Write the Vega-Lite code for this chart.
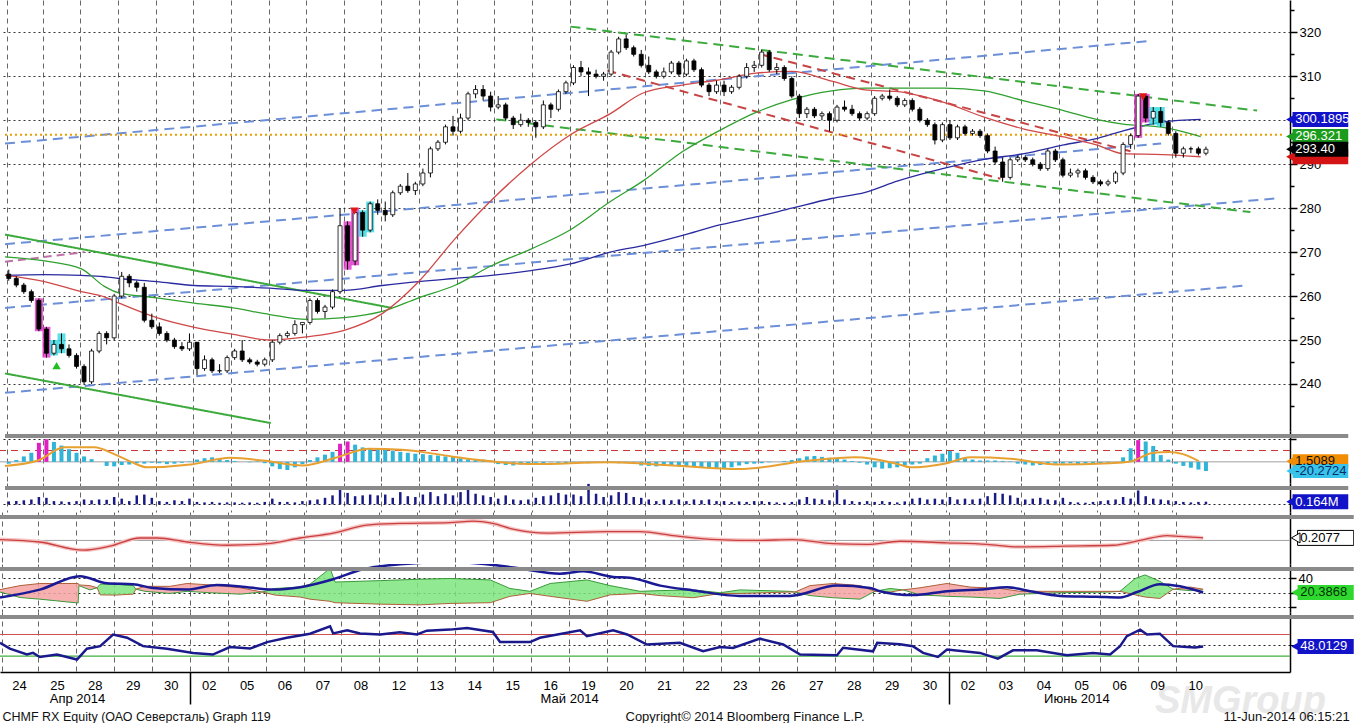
{
"$schema":"https://vega.github.io/schema/vega-lite/v6.json",
"padding":{"left":-8,"top":0,"right":0,"bottom":0},
"background":"white",
"spacing":0,
"bounds":"flush",
"config":{"view":{"stroke":null},"font":"Liberation Sans","axis":{"labelFont":"Liberation Sans","titleFont":"Liberation Sans"},"text":{"font":"Liberation Sans"}},
"resolve":{"scale":{"color":"independent","fill":"independent","stroke":"independent","shape":"independent","strokeDash":"independent"}},
"datasets":{
"candles":[
{"t":0.1,"o":265,"h":266,"l":263.5,"c":264,"v":0.18,"hs":-4},
{"t":0.3,"o":264,"h":264.5,"l":262,"c":262.5,"v":0.2,"hs":4},
{"t":0.5,"o":262.5,"h":263,"l":260.5,"c":261,"v":0.25,"hs":12},
{"t":0.7,"o":261,"h":261.5,"l":258.5,"c":259,"v":0.3,"hs":20},
{"t":0.9,"o":259,"h":259.5,"l":252,"c":252.5,"v":0.45,"hs":42,"hl":"m","hc":"m"},
{"t":1.1,"o":252.5,"h":253,"l":246,"c":247,"v":0.4,"hs":50,"hl":"m","hc":"m"},
{"t":1.3,"o":247,"h":250,"l":246.5,"c":249,"v":0.2,"hs":44,"hl":"c"},
{"t":1.5,"o":249,"h":251.5,"l":247,"c":248,"v":0.18,"hs":36,"hl":"c"},
{"t":1.7,"o":248,"h":249,"l":246,"c":246.5,"v":0.15,"hs":28},
{"t":1.9,"o":246.5,"h":247,"l":243.5,"c":244,"v":0.2,"hs":20},
{"t":2.1,"o":244,"h":244.5,"l":240,"c":240.5,"v":0.3,"hs":12},
{"t":2.3,"o":240.5,"h":248,"l":240,"c":247.5,"v":0.25,"hs":6},
{"t":2.5,"o":247.5,"h":252,"l":247,"c":251.5,"v":0.3,"hs":0},
{"t":2.7,"o":251.5,"h":252,"l":249,"c":250.5,"v":0.28,"hs":-9},
{"t":2.9,"o":250.5,"h":260.5,"l":250,"c":260,"v":0.45,"hs":-10},
{"t":3.1,"o":260,"h":265.5,"l":259.5,"c":264.5,"v":0.35,"hs":-7},
{"t":3.3,"o":264.5,"h":265,"l":262,"c":263,"v":0.2,"hs":-6},
{"t":3.5,"o":263,"h":263.5,"l":261,"c":262,"v":0.55,"hs":-3},
{"t":3.7,"o":262,"h":263,"l":254,"c":254.5,"v":0.6,"hs":-4},
{"t":3.9,"o":254.5,"h":256,"l":252.5,"c":253,"v":0.4,"hs":-2},
{"t":4.1,"o":253,"h":254,"l":251,"c":251.5,"v":0.2,"hs":-3},
{"t":4.3,"o":251.5,"h":252,"l":249.5,"c":250,"v":0.15,"hs":-5},
{"t":4.5,"o":250,"h":250.5,"l":248,"c":248.5,"v":0.25,"hs":-4},
{"t":4.7,"o":248.5,"h":249.5,"l":247.5,"c":248,"v":0.2,"hs":-2},
{"t":4.9,"o":248,"h":251.5,"l":247.5,"c":249.5,"v":0.35,"hs":1},
{"t":5.1,"o":249.5,"h":249.5,"l":242,"c":243.5,"v":0.15,"hs":5},
{"t":5.3,"o":243.5,"h":246.5,"l":243,"c":245.5,"v":0.12,"hs":8},
{"t":5.5,"o":245.5,"h":246,"l":242.5,"c":243,"v":0.15,"hs":10},
{"t":5.7,"o":243,"h":244.5,"l":242.5,"c":243,"v":0.1,"hs":7},
{"t":5.9,"o":243,"h":246.5,"l":242.5,"c":246,"v":0.12,"hs":4},
{"t":6.1,"o":246,"h":248,"l":245.5,"c":247.5,"v":0.12,"hs":2},
{"t":6.3,"o":247.5,"h":250,"l":245,"c":245.5,"v":0.1,"hs":0},
{"t":6.5,"o":245.5,"h":246,"l":244.5,"c":245,"v":0.12,"hs":-1},
{"t":6.7,"o":245,"h":245.5,"l":244,"c":244.5,"v":0.1,"hs":1},
{"t":6.9,"o":244.5,"h":246,"l":244,"c":245.5,"v":0.15,"hs":-3},
{"t":7.1,"o":245.5,"h":250,"l":245,"c":249.5,"v":0.35,"hs":-10},
{"t":7.3,"o":249.5,"h":251.5,"l":249,"c":251,"v":0.15,"hs":-16},
{"t":7.5,"o":251,"h":252,"l":250.5,"c":251.5,"v":0.15,"hs":-18},
{"t":7.7,"o":251.5,"h":254.5,"l":251,"c":253.5,"v":0.12,"hs":-12},
{"t":7.9,"o":253.5,"h":254,"l":251.5,"c":254,"v":0.2,"hs":-5},
{"t":8.1,"o":254,"h":259.5,"l":253.5,"c":259,"v":0.25,"hs":4},
{"t":8.3,"o":259,"h":259.5,"l":256,"c":256.5,"v":0.3,"hs":10},
{"t":8.5,"o":256.5,"h":258,"l":255,"c":257.5,"v":0.4,"hs":16},
{"t":8.7,"o":257.5,"h":261.5,"l":257,"c":261,"v":0.55,"hs":22},
{"t":8.9,"o":261,"h":280,"l":260.5,"c":276,"v":0.95,"hs":40,"hc":"m"},
{"t":9.1,"o":276,"h":277,"l":266,"c":268,"v":0.7,"hs":45,"hl":"m","hc":"m"},
{"t":9.3,"o":268,"h":280,"l":267,"c":279,"v":0.5,"hs":38,"hl":"m"},
{"t":9.5,"o":279,"h":279.5,"l":273.5,"c":275,"v":0.55,"hs":32,"hl":"c"},
{"t":9.7,"o":275,"h":281.5,"l":274.5,"c":281,"v":0.6,"hs":30,"hl":"c"},
{"t":9.9,"o":281,"h":282,"l":278.5,"c":279.5,"v":0.55,"hs":28},
{"t":10.1,"o":279.5,"h":281.5,"l":277,"c":278.5,"v":0.6,"hs":27},
{"t":10.3,"o":278.5,"h":284,"l":278,"c":283.5,"v":0.4,"hs":25},
{"t":10.5,"o":283.5,"h":285.5,"l":283,"c":285,"v":0.75,"hs":22},
{"t":10.7,"o":285,"h":288,"l":283.5,"c":284,"v":0.5,"hs":20},
{"t":10.9,"o":284,"h":286,"l":283,"c":285.5,"v":0.45,"hs":18},
{"t":11.1,"o":285.5,"h":289,"l":285,"c":288,"v":0.6,"hs":17},
{"t":11.3,"o":288,"h":294,"l":287,"c":293.5,"v":0.75,"hs":15},
{"t":11.5,"o":293.5,"h":295.5,"l":293,"c":295,"v":0.5,"hs":14},
{"t":11.7,"o":295,"h":299,"l":294.5,"c":298.5,"v":0.65,"hs":12},
{"t":11.9,"o":298.5,"h":301,"l":296.5,"c":297.5,"v":0.55,"hs":11},
{"t":12.1,"o":297.5,"h":301.5,"l":297,"c":300.5,"v":0.75,"hs":8},
{"t":12.3,"o":300.5,"h":306.5,"l":300,"c":306,"v":0.9,"hs":6},
{"t":12.5,"o":306,"h":308,"l":305,"c":307,"v":0.65,"hs":5},
{"t":12.7,"o":307,"h":308,"l":304.5,"c":305.5,"v":0.55,"hs":5},
{"t":12.9,"o":305.5,"h":306.5,"l":302,"c":303,"v":0.45,"hs":3},
{"t":13.1,"o":303,"h":305.5,"l":302.5,"c":303.5,"v":0.35,"hs":-5},
{"t":13.3,"o":303.5,"h":304,"l":300,"c":300.5,"v":0.55,"hs":-7},
{"t":13.5,"o":300.5,"h":301,"l":298,"c":299,"v":0.3,"hs":-8},
{"t":13.7,"o":299,"h":301.5,"l":298.5,"c":300,"v":0.25,"hs":-6},
{"t":13.9,"o":300,"h":300.5,"l":298.5,"c":299.5,"v":0.3,"hs":-3},
{"t":14.1,"o":299.5,"h":300,"l":296,"c":298.5,"v":0.4,"hs":-2},
{"t":14.3,"o":298.5,"h":304.5,"l":298,"c":303.5,"v":0.5,"hs":-3},
{"t":14.5,"o":303.5,"h":304,"l":300.5,"c":302.5,"v":0.55,"hs":-1},
{"t":14.7,"o":302.5,"h":307,"l":302,"c":306.5,"v":0.7,"hs":-2},
{"t":14.9,"o":306.5,"h":309,"l":306,"c":308.5,"v":0.6,"hs":-3},
{"t":15.1,"o":308.5,"h":312.5,"l":308,"c":312,"v":0.6,"hs":-1},
{"t":15.3,"o":312,"h":313.5,"l":310,"c":311,"v":0.5,"hs":-2},
{"t":15.5,"o":311,"h":312,"l":305.5,"c":310.5,"v":1.25,"hs":-3},
{"t":15.7,"o":310.5,"h":311.5,"l":309.5,"c":310,"v":0.65,"hs":-2},
{"t":15.9,"o":310,"h":311,"l":309,"c":310.5,"v":0.45,"hs":-1},
{"t":16.1,"o":310.5,"h":316,"l":310,"c":315.5,"v":0.55,"hs":-2},
{"t":16.3,"o":315.5,"h":319,"l":315,"c":318.5,"v":0.75,"hs":-3},
{"t":16.5,"o":318.5,"h":319.5,"l":316,"c":316.5,"v":0.7,"hs":-2},
{"t":16.7,"o":316.5,"h":317,"l":314.5,"c":315,"v":0.45,"hs":-3},
{"t":16.9,"o":315,"h":316,"l":312,"c":312.5,"v":0.4,"hs":-8},
{"t":17.1,"o":312.5,"h":314.5,"l":310.5,"c":311,"v":0.3,"hs":-9},
{"t":17.3,"o":311,"h":311.5,"l":309.5,"c":310,"v":0.2,"hs":-10},
{"t":17.5,"o":310,"h":312,"l":309.5,"c":311,"v":0.3,"hs":-8},
{"t":17.7,"o":311,"h":313.5,"l":310.5,"c":313,"v":0.25,"hs":-9},
{"t":17.9,"o":313,"h":313.5,"l":310,"c":310.5,"v":0.3,"hs":-10},
{"t":18.1,"o":310.5,"h":314,"l":310,"c":313.5,"v":0.2,"hs":-9},
{"t":18.3,"o":313.5,"h":314,"l":311,"c":311.5,"v":0.3,"hs":-10},
{"t":18.5,"o":311.5,"h":312,"l":307.5,"c":308,"v":0.25,"hs":-12},
{"t":18.7,"o":308,"h":308.5,"l":305.5,"c":306.5,"v":0.3,"hs":-14},
{"t":18.9,"o":306.5,"h":309,"l":306,"c":308,"v":0.2,"hs":-15},
{"t":19.1,"o":308,"h":309,"l":305.5,"c":306.5,"v":0.2,"hs":-15},
{"t":19.3,"o":306.5,"h":308,"l":306,"c":307.5,"v":0.15,"hs":-12},
{"t":19.5,"o":307.5,"h":310.5,"l":307,"c":310,"v":0.18,"hs":-8},
{"t":19.7,"o":310,"h":313,"l":309.5,"c":312,"v":0.15,"hs":-5},
{"t":19.9,"o":312,"h":313.5,"l":311,"c":312.5,"v":0.2,"hs":-4},
{"t":20.1,"o":312.5,"h":316,"l":312,"c":315.5,"v":0.2,"hs":-3},
{"t":20.3,"o":315.5,"h":316,"l":311,"c":311.5,"v":0.15,"hs":-1},
{"t":20.5,"o":311.5,"h":313,"l":310.5,"c":312,"v":0.12,"hs":0},
{"t":20.7,"o":312,"h":312.5,"l":309,"c":309.5,"v":0.1,"hs":2},
{"t":20.9,"o":309.5,"h":310,"l":305,"c":305.5,"v":0.15,"hs":4},
{"t":21.1,"o":305.5,"h":306,"l":300.5,"c":301.5,"v":0.3,"hs":8},
{"t":21.3,"o":301.5,"h":303,"l":300.5,"c":302.5,"v":0.45,"hs":12},
{"t":21.5,"o":302.5,"h":303,"l":300.5,"c":301,"v":0.35,"hs":13},
{"t":21.7,"o":301,"h":302,"l":300,"c":301.5,"v":0.3,"hs":11},
{"t":21.9,"o":301.5,"h":302,"l":297.5,"c":300,"v":0.25,"hs":9},
{"t":22.1,"o":300,"h":303.5,"l":299.5,"c":303,"v":1.15,"hs":8},
{"t":22.3,"o":303,"h":304.5,"l":302,"c":302.5,"v":0.3,"hs":5},
{"t":22.5,"o":302.5,"h":303.5,"l":301,"c":301.5,"v":0.2,"hs":2},
{"t":22.7,"o":301.5,"h":302,"l":300,"c":300.5,"v":0.15,"hs":-2},
{"t":22.9,"o":300.5,"h":302,"l":300,"c":301.5,"v":0.2,"hs":-6},
{"t":23.1,"o":301.5,"h":305.5,"l":301,"c":305,"v":0.15,"hs":-12},
{"t":23.3,"o":305,"h":306,"l":304.5,"c":305.5,"v":0.2,"hs":-15},
{"t":23.5,"o":305.5,"h":307,"l":304.5,"c":305,"v":0.15,"hs":-14},
{"t":23.7,"o":305,"h":305.5,"l":303,"c":303.5,"v":0.12,"hs":-12},
{"t":23.9,"o":303.5,"h":305,"l":303,"c":304.5,"v":0.18,"hs":-8},
{"t":24.1,"o":304.5,"h":305,"l":302,"c":302.5,"v":0.35,"hs":-6},
{"t":24.3,"o":302.5,"h":303,"l":299.5,"c":300,"v":0.4,"hs":-4},
{"t":24.5,"o":300,"h":300.5,"l":298.5,"c":299,"v":0.3,"hs":8},
{"t":24.7,"o":299,"h":299.5,"l":294.5,"c":295.5,"v":0.35,"hs":14},
{"t":24.9,"o":295.5,"h":299.5,"l":295,"c":299,"v":0.3,"hs":18},
{"t":25.1,"o":299,"h":300,"l":295.5,"c":296,"v":0.45,"hs":24},
{"t":25.3,"o":296,"h":299,"l":295.5,"c":298.5,"v":0.3,"hs":20},
{"t":25.5,"o":298.5,"h":299,"l":296.5,"c":297,"v":0.35,"hs":8},
{"t":25.7,"o":297,"h":298,"l":296.5,"c":297.5,"v":0.3,"hs":5},
{"t":25.9,"o":297.5,"h":298,"l":296,"c":296.5,"v":0.35,"hs":3},
{"t":26.1,"o":296.5,"h":297,"l":292.5,"c":293,"v":0.5,"hs":3},
{"t":26.3,"o":293,"h":294,"l":290,"c":290.5,"v":0.7,"hs":3},
{"t":26.5,"o":290.5,"h":291.5,"l":286,"c":287,"v":0.65,"hs":2},
{"t":26.7,"o":287,"h":291.5,"l":286.5,"c":291,"v":0.55,"hs":1},
{"t":26.9,"o":291,"h":292,"l":290.5,"c":291.5,"v":0.4,"hs":-4},
{"t":27.1,"o":291.5,"h":292,"l":290.5,"c":291,"v":0.3,"hs":-6},
{"t":27.3,"o":291,"h":291.5,"l":289.5,"c":290,"v":0.35,"hs":-8},
{"t":27.5,"o":290,"h":290.5,"l":288.5,"c":289,"v":0.4,"hs":-7},
{"t":27.7,"o":289,"h":293.5,"l":288.5,"c":293,"v":0.3,"hs":-5},
{"t":27.9,"o":293,"h":293.5,"l":290.5,"c":291,"v":0.25,"hs":-4},
{"t":28.1,"o":291,"h":291.5,"l":287,"c":287.5,"v":0.4,"hs":-4},
{"t":28.3,"o":287.5,"h":289,"l":287,"c":288,"v":0.15,"hs":-3},
{"t":28.5,"o":288,"h":289,"l":287,"c":288.5,"v":0.12,"hs":-5},
{"t":28.7,"o":288.5,"h":289,"l":286.5,"c":287,"v":0.1,"hs":-4},
{"t":28.9,"o":287,"h":287.5,"l":285.5,"c":286,"v":0.15,"hs":-3},
{"t":29.1,"o":286,"h":286.5,"l":285,"c":285.5,"v":0.2,"hs":-3},
{"t":29.3,"o":285.5,"h":286.5,"l":285,"c":286,"v":0.25,"hs":-2},
{"t":29.5,"o":286,"h":288.5,"l":285.5,"c":288,"v":0.3,"hs":0},
{"t":29.7,"o":288,"h":295,"l":287.5,"c":294.5,"v":0.45,"hs":10},
{"t":29.9,"o":294.5,"h":297,"l":293.5,"c":296.5,"v":0.35,"hs":30},
{"t":30.1,"o":296.5,"h":306,"l":296,"c":305.5,"v":0.85,"hs":48,"hl":"m","hc":"m"},
{"t":30.3,"o":305.5,"h":306,"l":299.5,"c":300.5,"v":0.5,"hs":45,"hl":"m"},
{"t":30.5,"o":300.5,"h":303,"l":299,"c":302,"v":0.35,"hs":35,"hl":"c"},
{"t":30.7,"o":302,"h":303,"l":298.5,"c":299.5,"v":0.3,"hs":15,"hl":"c"},
{"t":30.9,"o":299.5,"h":300,"l":296.5,"c":297,"v":0.25,"hs":5},
{"t":31.1,"o":297,"h":297.5,"l":291.5,"c":292.5,"v":0.2,"hs":-4},
{"t":31.3,"o":292.5,"h":294,"l":291.5,"c":293.5,"v":0.15,"hs":-9},
{"t":31.5,"o":293.5,"h":294,"l":292.5,"c":293.5,"v":0.12,"hs":-13},
{"t":31.7,"o":293.5,"h":294,"l":292,"c":292.5,"v":0.15,"hs":-17},
{"t":31.9,"o":292.5,"h":294,"l":292,"c":293.4,"v":0.164,"hs":-20.27}
],
"ma":[
{"t":0,"r":264.7,"g":268.9,"b":264.7},{"t":1.05,"r":263.3,"g":268,"b":264.9},{"t":2.03,"r":261,"g":266.2,"b":264.7},
{"t":2.64,"r":259.8,"g":262.2,"b":264.4},{"t":3.03,"r":258.4,"g":260.7,"b":264},{"t":4.03,"r":255.1,"g":259.6,"b":263.3},
{"t":5.03,"r":252.9,"g":258.4,"b":262.4},{"t":6.06,"r":251.3,"g":257.3,"b":262.2},{"t":7.04,"r":250,"g":255.8,"b":261.8},
{"t":8.01,"r":250.7,"g":254.7,"b":261.3},{"t":9.01,"r":252.2,"g":255.1,"b":261.3},{"t":10.02,"r":256,"g":256.5,"b":262.4},
{"t":10.99,"r":263.3,"g":259.6,"b":263.3},{"t":11.94,"r":272.9,"g":262.4,"b":264},{"t":12.92,"r":281.8,"g":266.9,"b":264.7},
{"t":13.97,"r":290,"g":270.7,"b":265.8},{"t":15.02,"r":296.7,"g":275.1,"b":267.3},{"t":16.08,"r":301.5,"g":281.5,"b":270},
{"t":16.95,"r":306.2,"g":286.2,"b":271.5},{"t":18.0,"r":308,"g":292.9,"b":273.8},{"t":18.9,"r":309.1,"g":297.3,"b":276},
{"t":19.95,"r":310.7,"g":301.8,"b":278},{"t":20.9,"r":311.1,"g":304.7,"b":280},{"t":21.96,"r":308.9,"g":306.7,"b":282.2},
{"t":22.85,"r":306.9,"g":307.3,"b":283.6},{"t":23.72,"r":306.5,"g":307.3,"b":286.2},{"t":24.96,"r":304,"g":307.3,"b":289.1},
{"t":26.01,"r":300.7,"g":306.7,"b":291.1},{"t":27.07,"r":298,"g":304.4,"b":292.4},{"t":28.12,"r":296.2,"g":302.2,"b":294.4},
{"t":28.99,"r":294.4,"g":300.2,"b":295.8},{"t":29.7,"r":292.4,"g":299.1,"b":297.6},{"t":30.76,"r":292.2,"g":298.4,"b":299.6},
{"t":31.76,"r":291.7,"g":296.3,"b":300.2}
],
"trend":[
{"id":"A","kind":"blue","t":0,"p":294.7},{"id":"A","kind":"blue","t":30.36,"p":318},
{"id":"D","kind":"blue","t":0,"p":271.8},{"id":"D","kind":"blue","t":30.71,"p":294.7},
{"id":"B","kind":"blue","t":0,"p":257.3},{"id":"B","kind":"blue","t":33.74,"p":282.2},
{"id":"C","kind":"blue","t":0,"p":238},{"id":"C","kind":"blue","t":32.95,"p":262.4},
{"id":"P","kind":"pink","t":0,"p":267.8},{"id":"P","kind":"pink","t":2.11,"p":270},
{"id":"G1","kind":"green","t":0,"p":274},{"id":"G1","kind":"green","t":10.28,"p":257.3},
{"id":"G2","kind":"green","t":0,"p":242.4},{"id":"G2","kind":"green","t":7.06,"p":231.1},
{"id":"GD1","kind":"gdash","t":15.02,"p":321.3},{"id":"GD1","kind":"gdash","t":33.26,"p":302.2},
{"id":"GD2","kind":"gdash","t":13.05,"p":300.2},{"id":"GD2","kind":"gdash","t":33.08,"p":279.1},
{"id":"RD1","kind":"rdash","t":16.0,"p":311.3},{"id":"RD1","kind":"rdash","t":26.44,"p":286.7},
{"id":"RD2","kind":"rdash","t":20.03,"p":315.1},{"id":"RD2","kind":"rdash","t":29.92,"p":292.9},
{"id":"H","kind":"orange","t":0,"p":296.7},{"id":"H","kind":"orange","t":34,"p":296.7}
],
"signals":[
{"t":1.37,"p":244.2,"kind":"up"},{"t":9.28,"p":279.3,"kind":"dn"},{"t":30.23,"p":305.3,"kind":"dn"}
],
"tags":[
{"panel":"main","kind":"blue","p":300.1895,"label":"300.1895"},
{"panel":"main","kind":"green","p":296.321,"label":"296.321"},
{"panel":"main","kind":"red","p":291.691,"label":"291.691"},
{"panel":"main","kind":"black","p":293.4,"label":"293.40"},
{"panel":"osc","kind":"orange","p":1.5089,"label":"1.5089"},
{"panel":"osc","kind":"cyan","p":-20.2724,"label":"-20.2724"},
{"panel":"vol","kind":"blue","p":0.164,"label":"0.164M"},
{"panel":"macd","kind":"white","p":0.2077,"label":"0.2077"},
{"panel":"dmi","kind":"lime","p":20.3868,"label":"20.3868"},
{"panel":"rsi","kind":"blue","p":48.0129,"label":"48.0129"}
],
"osc":[
{"t":0,"s":-9},{"t":0.87,"s":3},{"t":1.58,"s":32},{"t":2.37,"s":32},{"t":2.9,"s":17},{"t":3.35,"s":0},{"t":3.77,"s":-12},
{"t":4.93,"s":-6},{"t":5.98,"s":9},{"t":6.85,"s":3},{"t":7.91,"s":-8},{"t":8.78,"s":9},{"t":9.67,"s":29},{"t":10.54,"s":27},
{"t":11.86,"s":12},{"t":12.47,"s":5},{"t":14.05,"s":-5},{"t":16.0,"s":-1},{"t":17.74,"s":-8},{"t":19.5,"s":-16},{"t":21.27,"s":2},
{"t":22.59,"s":10},{"t":23.72,"s":-5},{"t":24.06,"s":-12},{"t":24.96,"s":-4},{"t":25.65,"s":10},{"t":26.7,"s":7},{"t":27.94,"s":-6},
{"t":29.34,"s":-3},{"t":29.86,"s":0},{"t":30.5,"s":20},{"t":30.92,"s":22},{"t":31.29,"s":17},{"t":31.71,"s":1.5}
],
"macd":[
{"t":0,"m":0.07},{"t":1.05,"m":-0.13},{"t":2.19,"m":-0.8},{"t":2.9,"m":-0.47},{"t":3.69,"m":0.2},{"t":4.14,"m":0.2},
{"t":4.93,"m":-0.13},{"t":5.98,"m":-0.4},{"t":7.04,"m":-0.27},{"t":7.91,"m":0.2},{"t":8.78,"m":0.6},{"t":9.67,"m":1.27},
{"t":10.54,"m":1.4},{"t":11.86,"m":1.47},{"t":12.47,"m":1.6},{"t":12.99,"m":1.4},{"t":13.52,"m":0.93},{"t":14.42,"m":0.6},
{"t":16.0,"m":0.73},{"t":16.87,"m":0.73},{"t":17.74,"m":0.4},{"t":18.9,"m":0.07},{"t":19.95,"m":0},{"t":20.9,"m":0.07},
{"t":21.96,"m":-0.27},{"t":22.85,"m":-0.33},{"t":23.72,"m":-0.07},{"t":24.96,"m":-0.2},{"t":26.01,"m":-0.33},{"t":26.88,"m":-0.53},
{"t":28.12,"m":-0.47},{"t":29.34,"m":-0.4},{"t":30.05,"m":0},{"t":30.76,"m":0.4},{"t":31.1,"m":0.33},{"t":31.71,"m":0.21}
],
"dmi":[
{"t":0,"pd":21,"md":24.4,"seg":1,"sg":"neg"},{"t":0.53,"pd":13.3,"md":30,"seg":1,"sg":"neg"},{"t":1.05,"pd":11,"md":33,"seg":1,"sg":"neg"},
{"t":2.06,"pd":5.6,"md":33,"seg":1,"sg":"neg"},{"t":2.08,"pd":30,"md":31,"seg":1,"sg":"neg"},{"t":2.37,"pd":24,"md":30,"seg":1,"sg":"neg"},
{"t":2.56,"pd":27,"md":27,"seg":1,"sg":"neg"},
{"t":2.56,"pd":27,"md":27,"seg":2,"sg":"pos"},{"t":2.64,"pd":32,"md":17,"seg":2,"sg":"pos"},{"t":3.03,"pd":32,"md":16.7,"seg":2,"sg":"pos"},
{"t":3.51,"pd":30,"md":18,"seg":2,"sg":"pos"},{"t":3.58,"pd":25,"md":25,"seg":2,"sg":"pos"},
{"t":3.58,"pd":25,"md":25,"seg":3,"sg":"neg"},{"t":3.82,"pd":22,"md":29,"seg":3,"sg":"neg"},{"t":4.48,"pd":19,"md":29,"seg":3,"sg":"neg"},
{"t":4.93,"pd":22,"md":33,"seg":3,"sg":"neg"},{"t":5.54,"pd":20,"md":31,"seg":3,"sg":"neg"},{"t":6.33,"pd":18,"md":27,"seg":3,"sg":"neg"},
{"t":6.91,"pd":21,"md":21,"seg":3,"sg":"neg"},
{"t":6.91,"pd":21,"md":21,"seg":4,"sg":"pos"},{"t":7.25,"pd":26,"md":16.7,"seg":4,"sg":"pos"},{"t":7.91,"pd":28,"md":14,"seg":4,"sg":"pos"},
{"t":8.17,"pd":32,"md":11,"seg":4,"sg":"pos"},{"t":8.7,"pd":54,"md":8,"seg":4,"sg":"pos"},{"t":8.83,"pd":35,"md":6,"seg":4,"sg":"pos"},
{"t":10.02,"pd":37,"md":4,"seg":4,"sg":"pos"},{"t":11.07,"pd":39,"md":3,"seg":4,"sg":"pos"},{"t":11.86,"pd":40,"md":5,"seg":4,"sg":"pos"},
{"t":12.92,"pd":38,"md":6,"seg":4,"sg":"pos"},{"t":13.44,"pd":26,"md":15,"seg":4,"sg":"pos"},{"t":13.97,"pd":22,"md":19,"seg":4,"sg":"pos"},
{"t":14.5,"pd":33,"md":15,"seg":4,"sg":"pos"},{"t":15.47,"pd":38,"md":8,"seg":4,"sg":"pos"},{"t":16.08,"pd":30,"md":17,"seg":4,"sg":"pos"},
{"t":16.87,"pd":22,"md":19,"seg":4,"sg":"pos"},{"t":17.4,"pd":23,"md":16,"seg":4,"sg":"pos"},{"t":18.27,"pd":24,"md":13,"seg":4,"sg":"pos"},
{"t":18.98,"pd":20,"md":19,"seg":4,"sg":"pos"},{"t":19.5,"pd":24,"md":19,"seg":4,"sg":"pos"},{"t":20.82,"pd":22,"md":21,"seg":4,"sg":"pos"},
{"t":20.95,"pd":21,"md":21,"seg":4,"sg":"pos"},
{"t":20.95,"pd":21,"md":21,"seg":5,"sg":"neg"},{"t":21.35,"pd":16,"md":30,"seg":5,"sg":"neg"},{"t":21.96,"pd":13,"md":33,"seg":5,"sg":"neg"},
{"t":22.67,"pd":11,"md":30,"seg":5,"sg":"neg"},{"t":23.06,"pd":22,"md":22,"seg":5,"sg":"neg"},
{"t":23.06,"pd":22,"md":22,"seg":6,"sg":"pos"},{"t":23.46,"pd":26,"md":21,"seg":6,"sg":"pos"},{"t":23.8,"pd":24,"md":24,"seg":6,"sg":"pos"},
{"t":23.8,"pd":24,"md":24,"seg":7,"sg":"neg"},{"t":24.25,"pd":17,"md":27,"seg":7,"sg":"neg"},{"t":24.96,"pd":15,"md":33,"seg":7,"sg":"neg"},
{"t":25.57,"pd":14,"md":28,"seg":7,"sg":"neg"},{"t":26.36,"pd":12,"md":26,"seg":7,"sg":"neg"},{"t":26.88,"pd":18,"md":22,"seg":7,"sg":"neg"},
{"t":27.94,"pd":20,"md":22,"seg":7,"sg":"neg"},{"t":29.26,"pd":21,"md":22,"seg":7,"sg":"neg"},{"t":29.52,"pd":22,"md":22,"seg":7,"sg":"neg"},
{"t":29.52,"pd":22,"md":22,"seg":8,"sg":"pos"},{"t":29.92,"pd":40,"md":17,"seg":8,"sg":"pos"},{"t":30.18,"pd":45,"md":14,"seg":8,"sg":"pos"},
{"t":30.57,"pd":36,"md":12,"seg":8,"sg":"pos"},{"t":30.92,"pd":25,"md":25,"seg":8,"sg":"pos"},
{"t":30.92,"pd":25,"md":25,"seg":9,"sg":"neg"},{"t":31.37,"pd":23,"md":28,"seg":9,"sg":"neg"},{"t":31.71,"pd":24,"md":25,"seg":9,"sg":"neg"}
],
"adx":[
{"t":0,"a":13.3},{"t":1.05,"a":24.4},{"t":2.11,"a":43.3},{"t":2.82,"a":33.3},{"t":3.51,"a":32},{"t":4.03,"a":26.7},{"t":4.93,"a":24.4},
{"t":5.72,"a":31},{"t":6.33,"a":28.9},{"t":7.2,"a":24.4},{"t":7.91,"a":27.8},{"t":8.78,"a":38.9},{"t":9.57,"a":53},{"t":10.54,"a":60},
{"t":11.86,"a":63},{"t":13.18,"a":58},{"t":13.78,"a":53.3},{"t":14.76,"a":46.7},{"t":15.37,"a":50},{"t":16.16,"a":42.2},{"t":16.6,"a":41.1},
{"t":17.4,"a":30},{"t":18.27,"a":23.3},{"t":19.5,"a":15.6},{"t":20.82,"a":15.6},{"t":22.06,"a":30},{"t":22.93,"a":26.7},{"t":23.19,"a":22.2},
{"t":24.06,"a":16.7},{"t":24.96,"a":22.2},{"t":25.83,"a":24.4},{"t":26.54,"a":27.8},{"t":27.15,"a":22},{"t":27.94,"a":15.6},{"t":28.91,"a":14.4},
{"t":29.52,"a":13.3},{"t":29.97,"a":21},{"t":30.57,"a":32},{"t":31.1,"a":29},{"t":31.71,"a":20.4}
],
"rsi":[
{"t":0,"r":54.6},{"t":0.26,"r":43.8},{"t":0.71,"r":33},{"t":0.87,"r":36},{"t":1.05,"r":28.5},{"t":1.5,"r":33},{"t":2.03,"r":23.8},
{"t":2.29,"r":43.8},{"t":2.64,"r":48.5},{"t":2.98,"r":70},{"t":3.35,"r":64},{"t":3.77,"r":48.5},{"t":4.4,"r":43.8},{"t":5.09,"r":36},
{"t":5.61,"r":33},{"t":6.06,"r":46.9},{"t":6.59,"r":44},{"t":7.04,"r":56},{"t":7.56,"r":64},{"t":8.17,"r":71.5},{"t":8.7,"r":85},
{"t":8.78,"r":72},{"t":9.15,"r":77.7},{"t":9.49,"r":72},{"t":10.02,"r":70},{"t":10.54,"r":74},{"t":10.99,"r":70},{"t":11.25,"r":77},
{"t":11.86,"r":79},{"t":12.31,"r":82},{"t":12.99,"r":74.6},{"t":13.18,"r":56},{"t":13.97,"r":56},{"t":14.23,"r":64},{"t":15.29,"r":77.7},
{"t":15.47,"r":67},{"t":16.16,"r":77.7},{"t":16.53,"r":70},{"t":17.05,"r":51.5},{"t":17.92,"r":54.6},{"t":18.53,"r":39},{"t":18.98,"r":46.9},
{"t":19.32,"r":45},{"t":20.03,"r":62.3},{"t":20.64,"r":51.5},{"t":21.09,"r":33},{"t":22.06,"r":31.5},{"t":22.22,"r":45.4},{"t":23.01,"r":39},
{"t":23.12,"r":54.6},{"t":23.72,"r":52},{"t":24.06,"r":48.5},{"t":24.33,"r":36},{"t":24.72,"r":28.5},{"t":24.96,"r":42.3},{"t":25.83,"r":36},
{"t":26.3,"r":25.4},{"t":26.7,"r":40.8},{"t":27.33,"r":41},{"t":27.6,"r":37.7},{"t":28.12,"r":31.5},{"t":28.81,"r":36},{"t":29.26,"r":33},
{"t":29.52,"r":48.5},{"t":29.7,"r":67},{"t":30.05,"r":79},{"t":30.23,"r":70},{"t":30.57,"r":71.5},{"t":30.92,"r":48.5},{"t":31.29,"r":47},
{"t":31.5,"r":46},{"t":31.71,"r":48}
]
},
"vconcat":[
{
"width":1290,"height":431,
"resolve":{"axis":{"x":"independent","y":"independent"},"scale":{"color":"independent","fill":"independent","stroke":"independent","shape":"independent","strokeDash":"independent"}},
"layer":[
{"data":{"name":"trend"},"mark":{"type":"line","strokeWidth":2},
"encoding":{
"x":{"field":"t","type":"quantitative","scale":{"domain":[0,34],"nice":false,"zero":false},
"axis":{"orient":"bottom","values":[0.04,1,2,3,4,5,6,7,8,9,10,11,12,13,14,15,16,17,18,19,20,21,22,23,24,25,26,27,28,29,30,31],"grid":true,"gridDash":[5,4],"gridColor":"#666","gridWidth":1,"labels":false,"ticks":false,"domain":false,"title":null}},
"y":{"field":"p","type":"quantitative","scale":{"domain":[230.44,326.22],"nice":false,"zero":false},
"axis":{"orient":"right","values":[235,240,245,250,255,260,265,270,275,280,285,290,295,300,305,310,315,320,325],"grid":true,"gridDash":[2,3],"gridColor":"#222","gridOpacity":{"condition":{"test":"datum.value % 10 === 0","value":0.9},"value":0},"tickSize":{"condition":{"test":"datum.value % 10 === 0","value":7},"value":4},"tickColor":"black","tickWidth":1.5,"labelExpr":"datum.value % 10 === 0 ? datum.label : ''","labelFontSize":13,"labelColor":"black","labelPadding":2,"labelOverlap":false,"labelBound":false,"labelFlush":false,"domainColor":"black","domainWidth":1.5,"title":null}},
"detail":{"field":"id"},
"color":{"field":"kind","type":"nominal","legend":null,"scale":{"domain":["blue","pink","green","gdash","rdash","orange"],"range":["#6d8fd8","#c070a8","#3caa3c","#3caa3c","#c84444","#e8a000"]}},
"strokeDash":{"field":"kind","type":"nominal","legend":null,"scale":{"domain":["blue","pink","green","gdash","rdash","orange"],"range":[[10,6],[8,5],[1,0],[10,6],[9,6],[2,3]]}}
}},
{"data":{"name":"ma"},"mark":{"type":"line","color":"#2a2aa0","strokeWidth":1.3,"interpolate":"monotone"},
"encoding":{"x":{"field":"t","type":"quantitative","scale":{"domain":[0,34],"nice":false,"zero":false},"axis":null},"y":{"field":"b","type":"quantitative","scale":{"domain":[230.44,326.22],"nice":false,"zero":false},"axis":null}}},
{"data":{"name":"ma"},"mark":{"type":"line","color":"#30a030","strokeWidth":1.3,"interpolate":"monotone"},
"encoding":{"x":{"field":"t","type":"quantitative","scale":{"domain":[0,34],"nice":false,"zero":false},"axis":null},"y":{"field":"g","type":"quantitative","scale":{"domain":[230.44,326.22],"nice":false,"zero":false},"axis":null}}},
{"data":{"name":"ma"},"mark":{"type":"line","color":"#d04848","strokeWidth":1.3,"interpolate":"monotone"},
"encoding":{"x":{"field":"t","type":"quantitative","scale":{"domain":[0,34],"nice":false,"zero":false},"axis":null},"y":{"field":"r","type":"quantitative","scale":{"domain":[230.44,326.22],"nice":false,"zero":false},"axis":null}}},
{"data":{"name":"candles"},"transform":[{"filter":"datum.hl"}],"mark":{"type":"bar","orient":"vertical","size":8,"opacity":0.8},
"encoding":{"x":{"field":"t","type":"quantitative","scale":{"domain":[0,34],"nice":false,"zero":false},"axis":null},"y":{"field":"l","type":"quantitative","scale":{"domain":[230.44,326.22],"nice":false,"zero":false},"axis":null},"y2":{"field":"h"},
"color":{"condition":{"test":"datum.hl === 'm'","value":"#e030c8"},"value":"#30d8e0"}}},
{"data":{"name":"candles"},"mark":{"type":"rule","color":"black","strokeWidth":1},
"encoding":{"x":{"field":"t","type":"quantitative","scale":{"domain":[0,34],"nice":false,"zero":false},"axis":null},"y":{"field":"l","type":"quantitative","scale":{"domain":[230.44,326.22],"nice":false,"zero":false},"axis":null},"y2":{"field":"h"}}},
{"data":{"name":"candles"},"mark":{"type":"bar","orient":"vertical","size":4,"stroke":"black","strokeWidth":0.8},
"encoding":{"x":{"field":"t","type":"quantitative","scale":{"domain":[0,34],"nice":false,"zero":false},"axis":null},"y":{"field":"o","type":"quantitative","scale":{"domain":[230.44,326.22],"nice":false,"zero":false},"axis":null},"y2":{"field":"c"},
"fill":{"condition":{"test":"datum.c >= datum.o","value":"white"},"value":"black"}}},
{"data":{"name":"signals"},"mark":{"type":"point","filled":true,"size":70,"opacity":1},
"encoding":{"x":{"field":"t","type":"quantitative","scale":{"domain":[0,34],"nice":false,"zero":false},"axis":null},"y":{"field":"p","type":"quantitative","scale":{"domain":[230.44,326.22],"nice":false,"zero":false},"axis":null},
"shape":{"condition":{"test":"datum.kind === 'up'","value":"triangle-up"},"value":"triangle-down"},
"color":{"condition":{"test":"datum.kind === 'up'","value":"#20c020"},"value":"#e01818"}}},
{"data":{"name":"tags"},"transform":[{"filter":"datum.panel === 'main'"}],"mark":{"type":"bar","orient":"horizontal","size":15},
"encoding":{"x":{"datum":34.2,"type":"quantitative","scale":{"domain":[0,34],"nice":false,"zero":false},"axis":null},"x2":{"datum":35.68},"y":{"field":"p","type":"quantitative","scale":{"domain":[230.44,326.22],"nice":false,"zero":false},"axis":null},
"fill":{"field":"kind","type":"nominal","legend":null,"scale":{"domain":["blue","green","red","black","orange","cyan","white","lime"],"range":["#1212c8","#1c9c1c","#d41414","#000000","#f28c00","#38c4ea","#ffffff","#2ed82e"]}}}},
{"data":{"name":"tags"},"transform":[{"filter":"datum.panel === 'main'"}],"mark":{"type":"point","shape":"triangle-left","filled":true,"size":110,"opacity":1},
"encoding":{"x":{"datum":34.15,"type":"quantitative","scale":{"domain":[0,34],"nice":false,"zero":false},"axis":null},"y":{"field":"p","type":"quantitative","scale":{"domain":[230.44,326.22],"nice":false,"zero":false},"axis":null},
"fill":{"field":"kind","type":"nominal","legend":null,"scale":{"domain":["blue","green","red","black","orange","cyan","white","lime"],"range":["#1212c8","#1c9c1c","#d41414","#000000","#f28c00","#38c4ea","#ffffff","#2ed82e"]}}}},
{"data":{"name":"tags"},"transform":[{"filter":"datum.panel === 'main' && datum.kind !== 'red'"}],"mark":{"type":"text","align":"left","baseline":"middle","fontSize":13},
"encoding":{"x":{"datum":34.27,"type":"quantitative","scale":{"domain":[0,34],"nice":false,"zero":false},"axis":null},"y":{"field":"p","type":"quantitative","scale":{"domain":[230.44,326.22],"nice":false,"zero":false},"axis":null},"text":{"field":"label"},
"color":{"value":"white"}}}
]
},
{
"width":1290,"height":52,
"resolve":{"axis":{"x":"independent","y":"independent"},"scale":{"color":"independent","fill":"independent","stroke":"independent","shape":"independent","strokeDash":"independent"}},
"layer":[
{"data":{"values":[{}]},"mark":{"type":"rule","color":"#a0a0a0","strokeWidth":1},"encoding":{"y":{"datum":0,"type":"quantitative","scale":{"domain":[-35.71,57.14],"nice":false,"zero":false},"axis":null}}},
{"data":{"values":[{}]},"mark":{"type":"rule","color":"#c83030","strokeWidth":1,"strokeDash":[7,5]},"encoding":{"y":{"datum":25,"type":"quantitative","scale":{"domain":[-35.71,57.14],"nice":false,"zero":false},"axis":null}}},
{"data":{"name":"candles"},"mark":{"type":"bar","orient":"vertical","size":4},
"encoding":{
"x":{"field":"t","type":"quantitative","scale":{"domain":[0,34],"nice":false,"zero":false},
"axis":{"orient":"bottom","values":[0.04,1,2,3,4,5,6,7,8,9,10,11,12,13,14,15,16,17,18,19,20,21,22,23,24,25,26,27,28,29,30,31],"grid":true,"gridDash":[5,4],"gridColor":"#666","gridWidth":1,"labels":false,"ticks":false,"domain":false,"title":null}},
"y":{"field":"hs","type":"quantitative","scale":{"domain":[-35.71,57.14],"nice":false,"zero":false},
"axis":{"orient":"right","values":[50],"grid":true,"gridDash":[2,3],"gridColor":"#222","labels":false,"tickSize":6,"tickColor":"black","tickWidth":1.5,"domainColor":"black","domainWidth":1.5,"title":null}},
"y2":{"datum":0},
"color":{"condition":{"test":"datum.hc === 'm'","value":"#e020c0"},"value":"#30b4d8"}}},
{"data":{"name":"osc"},"mark":{"type":"line","color":"#e8a030","strokeWidth":2,"interpolate":"monotone"},
"encoding":{"x":{"field":"t","type":"quantitative","scale":{"domain":[0,34],"nice":false,"zero":false},"axis":null},"y":{"field":"s","type":"quantitative","scale":{"domain":[-35.71,57.14],"nice":false,"zero":false},"axis":null}}},
{"data":{"name":"tags"},"transform":[{"filter":"datum.panel === 'osc'"}],"mark":{"type":"bar","orient":"horizontal","size":14},
"encoding":{"x":{"datum":34.2,"type":"quantitative","scale":{"domain":[0,34],"nice":false,"zero":false},"axis":null},"x2":{"datum":35.68},"y":{"field":"p","type":"quantitative","scale":{"domain":[-35.71,57.14],"nice":false,"zero":false},"axis":null},
"fill":{"field":"kind","type":"nominal","legend":null,"scale":{"domain":["blue","green","red","black","orange","cyan","white","lime"],"range":["#1212c8","#1c9c1c","#d41414","#000000","#f28c00","#38c4ea","#ffffff","#2ed82e"]}}}},
{"data":{"name":"tags"},"transform":[{"filter":"datum.panel === 'osc'"}],"mark":{"type":"point","shape":"triangle-left","filled":true,"size":100,"opacity":1},
"encoding":{"x":{"datum":34.15,"type":"quantitative","scale":{"domain":[0,34],"nice":false,"zero":false},"axis":null},"y":{"field":"p","type":"quantitative","scale":{"domain":[-35.71,57.14],"nice":false,"zero":false},"axis":null},
"fill":{"field":"kind","type":"nominal","legend":null,"scale":{"domain":["blue","green","red","black","orange","cyan","white","lime"],"range":["#1212c8","#1c9c1c","#d41414","#000000","#f28c00","#38c4ea","#ffffff","#2ed82e"]}}}},
{"data":{"name":"tags"},"transform":[{"filter":"datum.panel === 'osc'"}],"mark":{"type":"text","align":"left","baseline":"middle","fontSize":13},
"encoding":{"x":{"datum":34.27,"type":"quantitative","scale":{"domain":[0,34],"nice":false,"zero":false},"axis":null},"y":{"field":"p","type":"quantitative","scale":{"domain":[-35.71,57.14],"nice":false,"zero":false},"axis":null},"text":{"field":"label"},
"color":{"condition":{"test":"datum.kind === 'cyan'","value":"#0a2a6a"},"value":"#111111"}}},
{"data":{"values":[{}]},"mark":{"type":"rule","color":"#8a8a8a","strokeWidth":4},"encoding":{"x":{"datum":0,"type":"quantitative","scale":{"domain":[0,34],"nice":false,"zero":false},"axis":null},"x2":{"datum":35.68},"y":{"datum":57.14,"type":"quantitative","scale":{"domain":[-35.71,57.14],"nice":false,"zero":false},"axis":null}}}
]
},
{
"width":1290,"height":29,
"resolve":{"axis":{"x":"independent","y":"independent"},"scale":{"color":"independent","fill":"independent","stroke":"independent","shape":"independent","strokeDash":"independent"}},
"layer":[
{"data":{"name":"candles"},"mark":{"type":"bar","orient":"vertical","size":2.5,"color":"#1a1a86","clip":true},
"encoding":{
"x":{"field":"t","type":"quantitative","scale":{"domain":[0,34],"nice":false,"zero":false},
"axis":{"orient":"bottom","values":[0.04,1,2,3,4,5,6,7,8,9,10,11,12,13,14,15,16,17,18,19,20,21,22,23,24,25,26,27,28,29,30,31],"grid":true,"gridDash":[5,4],"gridColor":"#666","gridWidth":1,"labels":false,"ticks":false,"domain":false,"title":null}},
"y":{"field":"v","type":"quantitative","scale":{"domain":[-0.16,1.0],"nice":false,"zero":false},
"axis":{"orient":"right","values":[0],"grid":true,"gridDash":[2,3],"gridColor":"#222","labels":false,"ticks":false,"domainColor":"black","domainWidth":1.5,"title":null}},
"y2":{"datum":0}}},
{"data":{"name":"tags"},"transform":[{"filter":"datum.panel === 'vol'"}],"mark":{"type":"bar","orient":"horizontal","size":15},
"encoding":{"x":{"datum":34.2,"type":"quantitative","scale":{"domain":[0,34],"nice":false,"zero":false},"axis":null},"x2":{"datum":35.68},"y":{"field":"p","type":"quantitative","scale":{"domain":[-0.16,1.0],"nice":false,"zero":false},"axis":null},
"fill":{"value":"#1212c8"}}},
{"data":{"name":"tags"},"transform":[{"filter":"datum.panel === 'vol'"}],"mark":{"type":"point","shape":"triangle-left","filled":true,"size":100,"opacity":1},
"encoding":{"x":{"datum":34.15,"type":"quantitative","scale":{"domain":[0,34],"nice":false,"zero":false},"axis":null},"y":{"field":"p","type":"quantitative","scale":{"domain":[-0.16,1.0],"nice":false,"zero":false},"axis":null},
"fill":{"value":"#1212c8"}}},
{"data":{"name":"tags"},"transform":[{"filter":"datum.panel === 'vol'"}],"mark":{"type":"text","align":"left","baseline":"middle","fontSize":13},
"encoding":{"x":{"datum":34.27,"type":"quantitative","scale":{"domain":[0,34],"nice":false,"zero":false},"axis":null},"y":{"field":"p","type":"quantitative","scale":{"domain":[-0.16,1.0],"nice":false,"zero":false},"axis":null},"text":{"field":"label"},"color":{"value":"white"}}},
{"data":{"values":[{}]},"mark":{"type":"rule","color":"#8a8a8a","strokeWidth":4},"encoding":{"x":{"datum":0,"type":"quantitative","scale":{"domain":[0,34],"nice":false,"zero":false},"axis":null},"x2":{"datum":35.68},"y":{"datum":1.0,"type":"quantitative","scale":{"domain":[-0.16,1.0],"nice":false,"zero":false},"axis":null}}}
]
},
{
"width":1290,"height":52,
"resolve":{"axis":{"x":"independent","y":"independent"},"scale":{"color":"independent","fill":"independent","stroke":"independent","shape":"independent","strokeDash":"independent"}},
"layer":[
{"data":{"values":[{}]},"mark":{"type":"rule","color":"#a0a0a0","strokeWidth":1},"encoding":{"y":{"datum":0,"type":"quantitative","scale":{"domain":[-1.533,1.933],"nice":false,"zero":false},"axis":null}}},
{"data":{"name":"macd"},"mark":{"type":"line","color":"#f7c4c4","strokeWidth":4,"interpolate":"monotone"},
"encoding":{
"x":{"field":"t","type":"quantitative","scale":{"domain":[0,34],"nice":false,"zero":false},
"axis":{"orient":"bottom","values":[0.04,1,2,3,4,5,6,7,8,9,10,11,12,13,14,15,16,17,18,19,20,21,22,23,24,25,26,27,28,29,30,31],"grid":true,"gridDash":[5,4],"gridColor":"#666","gridWidth":1,"labels":false,"ticks":false,"domain":false,"title":null}},
"y":{"field":"m","type":"quantitative","scale":{"domain":[-1.533,1.933],"nice":false,"zero":false},
"axis":{"orient":"right","values":[],"grid":false,"labels":false,"ticks":false,"domainColor":"black","domainWidth":1.5,"title":null}}}},
{"data":{"name":"macd"},"mark":{"type":"line","color":"#c84040","strokeWidth":1.3,"interpolate":"monotone"},
"encoding":{"x":{"field":"t","type":"quantitative","scale":{"domain":[0,34],"nice":false,"zero":false},"axis":null},"y":{"field":"m","type":"quantitative","scale":{"domain":[-1.533,1.933],"nice":false,"zero":false},"axis":null}}},
{"data":{"name":"tags"},"transform":[{"filter":"datum.panel === 'macd'"}],"mark":{"type":"bar","orient":"horizontal","size":15,"stroke":"black","strokeWidth":1},
"encoding":{"x":{"datum":34.2,"type":"quantitative","scale":{"domain":[0,34],"nice":false,"zero":false},"axis":null},"x2":{"datum":35.68},"y":{"field":"p","type":"quantitative","scale":{"domain":[-1.533,1.933],"nice":false,"zero":false},"axis":null},
"fill":{"value":"white"}}},
{"data":{"name":"tags"},"transform":[{"filter":"datum.panel === 'macd'"}],"mark":{"type":"point","shape":"triangle-left","filled":true,"size":100,"opacity":1,"stroke":"black","strokeWidth":1},
"encoding":{"x":{"datum":34.15,"type":"quantitative","scale":{"domain":[0,34],"nice":false,"zero":false},"axis":null},"y":{"field":"p","type":"quantitative","scale":{"domain":[-1.533,1.933],"nice":false,"zero":false},"axis":null},"fill":{"value":"white"}}},
{"data":{"name":"tags"},"transform":[{"filter":"datum.panel === 'macd'"}],"mark":{"type":"text","align":"left","baseline":"middle","fontSize":13},
"encoding":{"x":{"datum":34.27,"type":"quantitative","scale":{"domain":[0,34],"nice":false,"zero":false},"axis":null},"y":{"field":"p","type":"quantitative","scale":{"domain":[-1.533,1.933],"nice":false,"zero":false},"axis":null},"text":{"field":"label"},"color":{"value":"black"}}},
{"data":{"values":[{}]},"mark":{"type":"rule","color":"#8a8a8a","strokeWidth":4},"encoding":{"x":{"datum":0,"type":"quantitative","scale":{"domain":[0,34],"nice":false,"zero":false},"axis":null},"x2":{"datum":35.68},"y":{"datum":1.933,"type":"quantitative","scale":{"domain":[-1.533,1.933],"nice":false,"zero":false},"axis":null}}}
]
},
{
"width":1290,"height":48,
"resolve":{"axis":{"x":"independent","y":"independent"},"scale":{"color":"independent","fill":"independent","stroke":"independent","shape":"independent","strokeDash":"independent"}},
"layer":[
{"data":{"name":"dmi"},"mark":{"type":"area","opacity":0.85,"clip":true},
"encoding":{
"x":{"field":"t","type":"quantitative","scale":{"domain":[0,34],"nice":false,"zero":false},
"axis":{"orient":"bottom","values":[0.04,1,2,3,4,5,6,7,8,9,10,11,12,13,14,15,16,17,18,19,20,21,22,23,24,25,26,27,28,29,30,31],"grid":true,"gridDash":[5,4],"gridColor":"#666","gridWidth":1,"labels":false,"ticks":false,"domain":false,"title":null}},
"y":{"field":"pd","type":"quantitative","scale":{"domain":[0,53.33],"nice":false,"zero":false},
"axis":{"orient":"right","values":[0,20,40],"grid":true,"gridDash":[2,3],"gridColor":"#222","labelExpr":"datum.value === 40 ? datum.label : ''","labelFontSize":13,"labelColor":"black","labelPadding":2,"tickSize":6,"tickColor":"black","tickWidth":1.5,"domainColor":"black","domainWidth":1.5,"labelOverlap":false,"labelBound":false,"labelFlush":false,"title":null}},
"y2":{"field":"md"},
"detail":{"field":"seg"},
"fill":{"field":"sg","type":"nominal","legend":null,"scale":{"domain":["pos","neg"],"range":["#7ee67e","#f4a2a2"]}}}},
{"data":{"name":"dmi"},"mark":{"type":"line","color":"#3a9a3a","strokeWidth":1,"clip":true},
"encoding":{"x":{"field":"t","type":"quantitative","scale":{"domain":[0,34],"nice":false,"zero":false},"axis":null},"y":{"field":"pd","type":"quantitative","scale":{"domain":[0,53.33],"nice":false,"zero":false},"axis":null}}},
{"data":{"name":"dmi"},"mark":{"type":"line","color":"#b0603a","strokeWidth":1,"clip":true},
"encoding":{"x":{"field":"t","type":"quantitative","scale":{"domain":[0,34],"nice":false,"zero":false},"axis":null},"y":{"field":"md","type":"quantitative","scale":{"domain":[0,53.33],"nice":false,"zero":false},"axis":null}}},
{"data":{"name":"adx"},"mark":{"type":"line","color":"#1a1a96","strokeWidth":2.5,"clip":true,"interpolate":"monotone"},
"encoding":{"x":{"field":"t","type":"quantitative","scale":{"domain":[0,34],"nice":false,"zero":false},"axis":null},"y":{"field":"a","type":"quantitative","scale":{"domain":[0,53.33],"nice":false,"zero":false},"axis":null}}},
{"data":{"name":"tags"},"transform":[{"filter":"datum.panel === 'dmi'"}],"mark":{"type":"bar","orient":"horizontal","size":15},
"encoding":{"x":{"datum":34.2,"type":"quantitative","scale":{"domain":[0,34],"nice":false,"zero":false},"axis":null},"x2":{"datum":35.68},"y":{"field":"p","type":"quantitative","scale":{"domain":[0,53.33],"nice":false,"zero":false},"axis":null},"fill":{"value":"#2ed82e"}}},
{"data":{"name":"tags"},"transform":[{"filter":"datum.panel === 'dmi'"}],"mark":{"type":"point","shape":"triangle-left","filled":true,"size":100,"opacity":1},
"encoding":{"x":{"datum":34.15,"type":"quantitative","scale":{"domain":[0,34],"nice":false,"zero":false},"axis":null},"y":{"field":"p","type":"quantitative","scale":{"domain":[0,53.33],"nice":false,"zero":false},"axis":null},"fill":{"value":"#2ed82e"}}},
{"data":{"name":"tags"},"transform":[{"filter":"datum.panel === 'dmi'"}],"mark":{"type":"text","align":"left","baseline":"middle","fontSize":13},
"encoding":{"x":{"datum":34.27,"type":"quantitative","scale":{"domain":[0,34],"nice":false,"zero":false},"axis":null},"y":{"field":"p","type":"quantitative","scale":{"domain":[0,53.33],"nice":false,"zero":false},"axis":null},"text":{"field":"label"},"color":{"value":"#063006"}}},
{"data":{"values":[{}]},"mark":{"type":"rule","color":"#8a8a8a","strokeWidth":4},"encoding":{"x":{"datum":0,"type":"quantitative","scale":{"domain":[0,34],"nice":false,"zero":false},"axis":null},"x2":{"datum":35.68},"y":{"datum":53.33,"type":"quantitative","scale":{"domain":[0,53.33],"nice":false,"zero":false},"axis":null}}}
]
},
{
"width":1290,"height":60,
"resolve":{"axis":{"x":"independent","y":"independent"},"scale":{"color":"independent","fill":"independent","stroke":"independent","shape":"independent","strokeDash":"independent"}},
"layer":[
{"data":{"values":[{}]},"mark":{"type":"rule","color":"#d05050","strokeWidth":1.2},"encoding":{"y":{"datum":70,"type":"quantitative","scale":{"domain":[10,102.3],"nice":false,"zero":false},"axis":null}}},
{"data":{"values":[{}]},"mark":{"type":"rule","color":"#40b040","strokeWidth":1.2},"encoding":{"y":{"datum":30,"type":"quantitative","scale":{"domain":[10,102.3],"nice":false,"zero":false},"axis":null}}},
{"data":{"name":"rsi"},"mark":{"type":"line","color":"#1a1a8c","strokeWidth":2.5},
"encoding":{
"x":{"field":"t","type":"quantitative","scale":{"domain":[0,34],"nice":false,"zero":false},
"axis":{"orient":"bottom","values":[0.04,1,2,3,4,5,6,7,8,9,10,11,12,13,14,15,16,17,18,19,20,21,22,23,24,25,26,27,28,29,30,31],"grid":true,"gridDash":[5,4],"gridColor":"#666","gridWidth":1,"labels":false,"ticks":false,"domain":false,
"title":"SMGroup","titleX":1240,"titleY":40,"titleAlign":"center","titleBaseline":"alphabetic","titleFontSize":38,"titleFontStyle":"italic","titleFontWeight":"bold","titleColor":"#e8e8e8"}},
"y":{"field":"r","type":"quantitative","scale":{"domain":[10,102.3],"nice":false,"zero":false},
"axis":{"orient":"right","values":[50],"grid":true,"gridDash":[2,3],"gridColor":"#222","labels":false,"tickSize":6,"tickColor":"black","domainColor":"black","domainWidth":1.5,"title":null}}}},
{"data":{"name":"rsi"},"mark":{"type":"point","opacity":0,"size":0,"strokeWidth":0},
"encoding":{"x":{"field":"t","type":"quantitative","scale":{"domain":[0,34],"nice":false,"zero":false},
"axis":{"orient":"bottom","values":[0.5,1.5,2.5,3.5,4.5,5.5,6.5,7.5,8.5,9.5,10.5,11.5,12.5,13.5,14.5,15.5,16.5,17.5,18.5,19.5,20.5,21.5,22.5,23.5,24.5,25.5,26.5,27.5,28.5,29.5,30.5,31.5],
"labelExpr":"['24','25','28','29','30','02','05','06','07','08','12','13','14','15','16','19','20','21','22','23','26','27','28','29','30','02','03','04','05','06','09','10'][floor(datum.value)]",
"labelFontSize":13,"labelColor":"black","labelPadding":7,"labelOverlap":false,"labelFlush":false,"labelBound":false,"ticks":false,"grid":false,"domain":true,"domainColor":"black","domainWidth":1.5,
"title":"CHMF RX Equity (ОАО Северсталь) Graph 119","titleX":2,"titleY":48,"titleAlign":"left","titleBaseline":"alphabetic","titleFontSize":12.5,"titleFontWeight":"normal","titleColor":"#111"}},
"y":{"field":"r","type":"quantitative","scale":{"domain":[10,102.3],"nice":false,"zero":false},"axis":null}}},
{"data":{"name":"rsi"},"mark":{"type":"point","opacity":0,"size":0,"strokeWidth":0},
"encoding":{"x":{"field":"t","type":"quantitative","scale":{"domain":[0,34],"nice":false,"zero":false},
"axis":{"orient":"bottom","values":[2.03,15,28.37],"labelExpr":"datum.value < 5 ? 'Апр 2014' : (datum.value < 25 ? 'Май 2014' : 'Июнь 2014')","labelFontSize":13,"labelColor":"black","labelPadding":20,"labelOverlap":false,"labelFlush":false,"labelBound":false,"ticks":false,"grid":false,"domain":false,
"title":"Copyright© 2014 Bloomberg Finance L.P.","titleX":625,"titleY":48,"titleAlign":"left","titleBaseline":"alphabetic","titleFontSize":13,"titleFontWeight":"normal","titleColor":"#111"}},
"y":{"field":"r","type":"quantitative","scale":{"domain":[10,102.3],"nice":false,"zero":false},"axis":null}}},
{"data":{"name":"rsi"},"mark":{"type":"point","opacity":0,"size":0,"strokeWidth":0},
"encoding":{"x":{"field":"t","type":"quantitative","scale":{"domain":[0,34],"nice":false,"zero":false},
"axis":{"orient":"bottom","values":[5,25],"labels":false,"ticks":true,"tickSize":32,"tickColor":"black","tickWidth":1.5,"grid":false,"domain":false,
"title":"11-Jun-2014 06:15:21","titleX":1223,"titleY":48,"titleAlign":"left","titleBaseline":"alphabetic","titleFontSize":13,"titleFontWeight":"normal","titleColor":"#111"}},
"y":{"field":"r","type":"quantitative","scale":{"domain":[10,102.3],"nice":false,"zero":false},"axis":null}}},
{"data":{"name":"tags"},"transform":[{"filter":"datum.panel === 'rsi'"}],"mark":{"type":"bar","orient":"horizontal","size":15},
"encoding":{"x":{"datum":34.2,"type":"quantitative","scale":{"domain":[0,34],"nice":false,"zero":false},"axis":null},"x2":{"datum":35.68},"y":{"field":"p","type":"quantitative","scale":{"domain":[10,102.3],"nice":false,"zero":false},"axis":null},"fill":{"value":"#1212c8"}}},
{"data":{"name":"tags"},"transform":[{"filter":"datum.panel === 'rsi'"}],"mark":{"type":"point","shape":"triangle-left","filled":true,"size":100,"opacity":1},
"encoding":{"x":{"datum":34.15,"type":"quantitative","scale":{"domain":[0,34],"nice":false,"zero":false},"axis":null},"y":{"field":"p","type":"quantitative","scale":{"domain":[10,102.3],"nice":false,"zero":false},"axis":null},"fill":{"value":"#1212c8"}}},
{"data":{"name":"tags"},"transform":[{"filter":"datum.panel === 'rsi'"}],"mark":{"type":"text","align":"left","baseline":"middle","fontSize":13},
"encoding":{"x":{"datum":34.27,"type":"quantitative","scale":{"domain":[0,34],"nice":false,"zero":false},"axis":null},"y":{"field":"p","type":"quantitative","scale":{"domain":[10,102.3],"nice":false,"zero":false},"axis":null},"text":{"field":"label"},"color":{"value":"white"}}},
{"data":{"values":[{}]},"mark":{"type":"rule","color":"#8a8a8a","strokeWidth":4},"encoding":{"x":{"datum":0,"type":"quantitative","scale":{"domain":[0,34],"nice":false,"zero":false},"axis":null},"x2":{"datum":35.68},"y":{"datum":102.3,"type":"quantitative","scale":{"domain":[10,102.3],"nice":false,"zero":false},"axis":null}}}
]
}
]
}
